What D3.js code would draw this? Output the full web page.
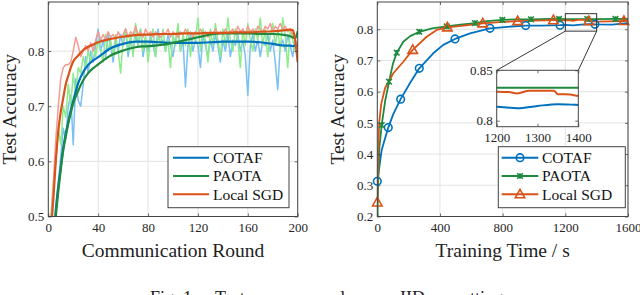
<!DOCTYPE html>
<html>
<head>
<meta charset="utf-8">
<script src="https://cdn.jsdelivr.net/npm/d3@7"></script>
<style>
  html, body { margin: 0; padding: 0; background: #fff; }
  svg { display: block; font-family: "Liberation Serif", "Times New Roman", serif; }
</style>
</head>
<body>
<div id="chart"></div>
<script>
// ---- left panel: accuracy vs communication round ----
const rawRounds = d3.range(0, 201, 2);
const cotafRaw = [0.38, 0.42, 0.46, 0.52, 0.56, 0.61, 0.66, 0.64, 0.70, 0.72, 0.63, 0.75, 0.71, 0.70, 0.74, 0.79, 0.76, 0.80, 0.78, 0.81,
  0.84, 0.80, 0.82, 0.79, 0.83, 0.81, 0.78, 0.82, 0.80, 0.83, 0.81, 0.84, 0.79, 0.82, 0.80, 0.83, 0.81, 0.84, 0.79, 0.82,
  0.80, 0.83, 0.81, 0.79, 0.84, 0.81, 0.82, 0.80, 0.83, 0.81, 0.79, 0.82, 0.84, 0.80, 0.82, 0.735, 0.81, 0.83, 0.80, 0.82,
  0.81, 0.77, 0.83, 0.81, 0.79, 0.82, 0.80, 0.83, 0.81, 0.78, 0.82, 0.80, 0.83, 0.79, 0.82, 0.81, 0.83, 0.80, 0.82, 0.79,
  0.72, 0.81, 0.83, 0.80, 0.82, 0.79, 0.82, 0.81, 0.83, 0.80, 0.82, 0.78, 0.73, 0.81, 0.82, 0.80, 0.83, 0.81, 0.79, 0.82, 0.81];
const paotaRaw = [0.42, 0.50, 0.56, 0.60, 0.66, 0.63, 0.70, 0.68, 0.74, 0.70, 0.76, 0.72, 0.77, 0.76, 0.79, 0.77, 0.80, 0.78, 0.81, 0.79,
  0.82, 0.80, 0.78, 0.83, 0.80, 0.82, 0.79, 0.83, 0.80, 0.76, 0.82, 0.84, 0.80, 0.83, 0.79, 0.85, 0.81, 0.84, 0.80, 0.83,
  0.78, 0.82, 0.84, 0.79, 0.83, 0.81, 0.84, 0.80, 0.82, 0.77, 0.83, 0.81, 0.85, 0.80, 0.83, 0.81, 0.84, 0.79, 0.83, 0.82,
  0.86, 0.80, 0.84, 0.82, 0.78, 0.84, 0.81, 0.85, 0.82, 0.79, 0.84, 0.81, 0.86, 0.82, 0.80, 0.84, 0.82, 0.77, 0.84, 0.81,
  0.85, 0.82, 0.80, 0.84, 0.82, 0.86, 0.81, 0.84, 0.79, 0.83, 0.85, 0.81, 0.84, 0.80, 0.86, 0.83, 0.77, 0.84, 0.82, 0.80, 0.80];
const lsgdRaw = [0.42, 0.48, 0.56, 0.64, 0.70, 0.75, 0.77, 0.775, 0.775, 0.78, 0.80, 0.825, 0.81, 0.79, 0.80, 0.81, 0.80, 0.815, 0.80, 0.82,
  0.835, 0.82, 0.83, 0.82, 0.835, 0.825, 0.83, 0.82, 0.835, 0.825, 0.83, 0.84, 0.825, 0.835, 0.83, 0.845, 0.83, 0.835, 0.825, 0.84,
  0.83, 0.835, 0.825, 0.835, 0.83, 0.825, 0.835, 0.83, 0.84, 0.825, 0.835, 0.83, 0.825, 0.835, 0.83, 0.84, 0.83, 0.835, 0.825, 0.835,
  0.83, 0.84, 0.83, 0.835, 0.825, 0.835, 0.83, 0.84, 0.83, 0.835, 0.83, 0.84, 0.83, 0.835, 0.84, 0.83, 0.845, 0.835, 0.84, 0.83,
  0.845, 0.835, 0.84, 0.83, 0.845, 0.84, 0.835, 0.845, 0.84, 0.85, 0.835, 0.845, 0.84, 0.85, 0.84, 0.845, 0.835, 0.84, 0.83, 0.82, 0.78];

const smoothRounds = [0, 2, 4, 6, 8, 10, 12, 14, 16, 18, 20, 24, 28, 32, 36, 40, 50, 60, 70, 80, 90, 100, 110, 120, 130, 140, 150, 160, 170, 180, 190, 194, 196, 198, 200];
const cotafSmooth = [0.36, 0.41, 0.46, 0.51, 0.555, 0.59, 0.625, 0.65, 0.672, 0.692, 0.71, 0.742, 0.762, 0.775, 0.783, 0.789, 0.805, 0.813, 0.817, 0.817,
  0.816, 0.815, 0.815, 0.815, 0.816, 0.817, 0.817, 0.817, 0.816, 0.813, 0.81, 0.81, 0.809, 0.81, 0.81];
const paotaSmooth = [0.35, 0.40, 0.45, 0.50, 0.545, 0.585, 0.62, 0.645, 0.668, 0.688, 0.705, 0.728, 0.747, 0.76, 0.769, 0.776, 0.792, 0.801, 0.807, 0.809,
  0.811, 0.815, 0.82, 0.825, 0.83, 0.832, 0.832, 0.832, 0.831, 0.831, 0.829, 0.827, 0.825, 0.823, 0.836];
const lsgdSmooth = [0.42, 0.47, 0.53, 0.60, 0.655, 0.69, 0.715, 0.74, 0.755, 0.77, 0.781, 0.792, 0.802, 0.808, 0.812, 0.816, 0.822, 0.826, 0.829, 0.83,
  0.831, 0.831, 0.832, 0.832, 0.833, 0.833, 0.834, 0.834, 0.835, 0.836, 0.838, 0.839, 0.838, 0.82, 0.78];

// ---- right panel: accuracy vs training time ----
const cotafT = [0, 28, 70, 102, 149, 209, 268, 357, 421, 496, 592, 719, 830, 947, 1050, 1166, 1200, 1250, 1300, 1350, 1389, 1400, 1500, 1560, 1600];
const cotafV = [0.313, 0.413, 0.485, 0.528, 0.576, 0.628, 0.675, 0.723, 0.750, 0.769, 0.787, 0.803, 0.808, 0.812, 0.812, 0.813, 0.8139, 0.8123, 0.8146, 0.8163, 0.8158, 0.8156, 0.815, 0.818, 0.82];
const cotafMarkT = [0, 70, 149, 268, 496, 719, 947, 1166, 1389];

const paotaT = [0, 5, 13, 28, 50, 75, 100, 124, 166, 210, 268, 350, 443, 530, 623, 700, 798, 890, 981, 1100, 1160, 1200, 1300, 1340, 1400, 1520, 1600];
const paotaV = [0.15, 0.30, 0.42, 0.493, 0.57, 0.632, 0.69, 0.725, 0.76, 0.778, 0.792, 0.803, 0.809, 0.815, 0.820, 0.826, 0.830, 0.832, 0.832, 0.833, 0.833, 0.8327, 0.8327, 0.8327, 0.8327, 0.833, 0.833];
const paotaMarkT = [28, 75, 124, 268, 443, 623, 798, 981, 1160, 1340, 1520];

const lsgdT = [0, 5, 12, 25, 49, 102, 166, 226, 315, 379, 447, 550, 673, 780, 896, 1000, 1124, 1200, 1230, 1250, 1280, 1340, 1350, 1380, 1400, 1474, 1574, 1600];
const lsgdV = [0.245, 0.40, 0.50, 0.56, 0.611, 0.659, 0.696, 0.734, 0.776, 0.798, 0.806, 0.812, 0.819, 0.823, 0.826, 0.828, 0.829, 0.8288, 0.8285, 0.827, 0.8298, 0.8298, 0.8262, 0.826, 0.8245, 0.8255, 0.8265, 0.827];
const lsgdMarkT = [0, 226, 447, 673, 896, 1124, 1350, 1574];

const seriesNames = ['COTAF', 'PAOTA', 'Local SGD'];
const darkColors = ['#0072BD', '#1f8a3e', '#D95319'];
const lightColors = ['#78c0f5', '#8deb8d', '#f59b93'];

const leftXTicks = [0, 40, 80, 120, 160, 200];
const leftYTicks = [0.5, 0.6, 0.7, 0.8];
const rightXTicks = [0, 400, 800, 1200, 1600];
const rightYTicks = [0.2, 0.3, 0.4, 0.5, 0.6, 0.7, 0.8];
const insetXTicks = [1200, 1300, 1400];
const insetYTicks = [0.8, 0.85];

const width = 640, height = 295;
const svg = d3.select('#chart').append('svg')
  .attr('width', width)
  .attr('height', height);

const boxColor = '#444';
const gridColor = '#e3e3e3';
const tickFont = 13;
const labelFont = 19.5;

let clipId = 0;
function makeClip(x0, y0, w, h) {
  const id = 'clip' + (clipId++);
  svg.append('clipPath').attr('id', id)
    .append('rect').attr('x', x0).attr('y', y0).attr('width', w).attr('height', h);
  return `url(#${id})`;
}

function drawFrame(x, y, xTicks, yTicks, opts) {
  const g = svg.append('g');
  const [x0, x1] = x.range();
  const [y0, y1] = y.range(); // y0 bottom, y1 top
  if (opts.fill) {
    g.append('rect').attr('x', x0).attr('y', y1).attr('width', x1 - x0).attr('height', y0 - y1)
      .attr('fill', opts.fill);
  }
  if (opts.grid) {
    g.selectAll('.gx').data(xTicks).enter().append('line')
      .attr('x1', d => x(d)).attr('x2', d => x(d)).attr('y1', y0).attr('y2', y1)
      .attr('stroke', gridColor).attr('stroke-width', 1);
    g.selectAll('.gy').data(yTicks).enter().append('line')
      .attr('x1', x0).attr('x2', x1).attr('y1', d => y(d)).attr('y2', d => y(d))
      .attr('stroke', gridColor).attr('stroke-width', 1);
  }
  return g;
}

function drawAxes(x, y, xTicks, yTicks, fmtX, fmtY) {
  const [x0, x1] = x.range();
  const [y0, y1] = y.range();
  const g = svg.append('g');
  const tick = 3;
  g.append('g').attr('transform', `translate(0,${y0})`)
    .call(d3.axisBottom(x).tickValues(xTicks).tickFormat(fmtX).tickSize(-tick).tickSizeOuter(0).tickPadding(6.5));
  g.append('g').attr('transform', `translate(0,${y1})`)
    .call(d3.axisTop(x).tickValues(xTicks).tickFormat('').tickSize(-tick).tickSizeOuter(0));
  g.append('g').attr('transform', `translate(${x0},0)`)
    .call(d3.axisLeft(y).tickValues(yTicks).tickFormat(fmtY).tickSize(-tick).tickSizeOuter(0).tickPadding(4));
  g.append('g').attr('transform', `translate(${x1},0)`)
    .call(d3.axisRight(y).tickValues(yTicks).tickFormat('').tickSize(-tick).tickSizeOuter(0));
  g.selectAll('.domain').remove();
  g.selectAll('.tick line').attr('stroke', boxColor).attr('stroke-width', 0.8);
  g.selectAll('.tick text')
    .attr('fill', '#262626')
    .style('font-family', '"Liberation Serif", serif')
    .style('font-size', tickFont + 'px');
  g.append('rect').attr('x', x0).attr('y', y1).attr('width', x1 - x0).attr('height', y0 - y1)
    .attr('fill', 'none').attr('stroke', boxColor).attr('stroke-width', 1);
  return g;
}

function drawLegend(x0, y0, w, h, rowsY, lineX0, lineX1, textX, markers) {
  const g = svg.append('g');
  g.append('rect').attr('x', x0).attr('y', y0).attr('width', w).attr('height', h)
    .attr('fill', '#fff').attr('stroke', '#444').attr('stroke-width', 1);
  seriesNames.forEach((name, i) => {
    g.append('line').attr('x1', lineX0).attr('x2', lineX1).attr('y1', rowsY[i]).attr('y2', rowsY[i])
      .attr('stroke', darkColors[i]).attr('stroke-width', 2);
    if (markers) drawMarker(g, i, (lineX0 + lineX1) / 2, rowsY[i]);
    g.append('text').attr('x', textX).attr('y', rowsY[i]).attr('dy', '0.34em')
      .attr('fill', '#111').style('font-size', '15.5px').text(name);
  });
}

function drawMarker(g, i, cx, cy) {
  const c = darkColors[i];
  if (i === 0) {
    g.append('circle').attr('cx', cx).attr('cy', cy).attr('r', 3.8)
      .attr('fill', 'none').attr('stroke', c).attr('stroke-width', 1.6);
  } else if (i === 1) {
    const s = 2.8;
    g.append('path')
      .attr('d', `M${cx - s},${cy - s}L${cx + s},${cy + s}M${cx - s},${cy + s}L${cx + s},${cy - s}M${cx},${cy - s}L${cx},${cy + s}`)
      .attr('stroke', c).attr('stroke-width', 1.6).attr('fill', 'none');
  } else {
    const s = 5;
    g.append('path')
      .attr('d', `M${cx},${cy - s}L${cx + s * 0.95},${cy + s * 0.7}L${cx - s * 0.95},${cy + s * 0.7}Z`)
      .attr('stroke', c).attr('stroke-width', 1.6).attr('fill', 'none');
  }
}

// ===== left panel =====
const xL = d3.scaleLinear().domain([0, 200]).range([48.3, 297.7]);
const yL = d3.scaleLinear().domain([0.5, 0.889]).range([216.5, 2]);
drawFrame(xL, yL, leftXTicks, leftYTicks, { grid: true });
const clipL = makeClip(48.3, 2, 297.7 - 48.3, 216.5 - 2);
const plotL = svg.append('g').attr('clip-path', clipL);

const rawLine = d3.line().x((d, i) => xL(rawRounds[i])).y(d => yL(d));
[cotafRaw, paotaRaw, lsgdRaw].forEach((arr, i) => {
  plotL.append('path').datum(arr).attr('d', rawLine)
    .attr('fill', 'none').attr('stroke', lightColors[i]).attr('stroke-width', 1.5)
    .attr('stroke-linejoin', 'round');
});
const smoothLine = d3.line().x((d, i) => xL(smoothRounds[i])).y(d => yL(d)).curve(d3.curveMonotoneX);
[cotafSmooth, paotaSmooth, lsgdSmooth].forEach((arr, i) => {
  plotL.append('path').datum(arr).attr('d', smoothLine)
    .attr('fill', 'none').attr('stroke', darkColors[i]).attr('stroke-width', 2.2)
    .attr('stroke-linejoin', 'round');
});
drawAxes(xL, yL, leftXTicks, leftYTicks, d3.format('d'), d => d3.format('.1f')(d));
drawLegend(168, 146.7, 121, 61, [157.7, 176, 194.3], 173, 209, 213, false);

svg.append('text').attr('x', (48.3 + 297.7) / 2).attr('y', 256.7).attr('text-anchor', 'middle')
  .style('font-size', labelFont + 'px').attr('fill', '#222').text('Communication Round');
svg.append('text').attr('transform', `translate(15.5,${(216.5 + 2) / 2}) rotate(-90)`).attr('text-anchor', 'middle')
  .style('font-size', labelFont + 'px').attr('fill', '#222').text('Test Accuracy');

// ===== right panel =====
const xR = d3.scaleLinear().domain([0, 1600]).range([377.3, 628]);
const yR = d3.scaleLinear().domain([0.2, 0.8874]).range([216.5, 2]);
drawFrame(xR, yR, rightXTicks, rightYTicks, { grid: true });
const clipR = makeClip(377.3, 2, 628 - 377.3, 216.5 - 2);
const plotR = svg.append('g').attr('clip-path', clipR);

const rightSeries = [
  { t: cotafT, v: cotafV, m: cotafMarkT },
  { t: paotaT, v: paotaV, m: paotaMarkT },
  { t: lsgdT, v: lsgdV, m: lsgdMarkT }
];
rightSeries.forEach((s, i) => {
  const pts = s.t.map((t, k) => [t, s.v[k]]);
  plotR.append('path').datum(pts)
    .attr('d', d3.line().x(d => xR(d[0])).y(d => yR(d[1])))
    .attr('fill', 'none').attr('stroke', darkColors[i]).attr('stroke-width', 1.8)
    .attr('stroke-linejoin', 'round');
});
rightSeries.forEach((s, i) => {
  s.m.forEach(t => {
    const k = s.t.indexOf(t);
    if (k >= 0 && s.v[k] >= 0.2) drawMarker(svg, i, xR(t), yR(s.v[k]));
  });
});
drawAxes(xR, yR, rightXTicks, rightYTicks, d3.format('d'), d => d3.format('.1f')(d));

// zoom rectangle and connector lines
const zoomX = [1200, 1400], zoomY = [0.794, 0.85];
svg.append('rect')
  .attr('x', xR(zoomX[0])).attr('y', yR(zoomY[1]))
  .attr('width', xR(zoomX[1]) - xR(zoomX[0])).attr('height', yR(zoomY[0]) - yR(zoomY[1]))
  .attr('fill', 'none').attr('stroke', '#333').attr('stroke-width', 1);

// inset
const xI = d3.scaleLinear().domain(zoomX).range([496.7, 578.3]);
const yI = d3.scaleLinear().domain(zoomY).range([126.7, 70.3]);
svg.append('line').attr('x1', xR(zoomX[0])).attr('y1', yR(zoomY[0])).attr('x2', xI(zoomX[0])).attr('y2', yI(zoomY[1]))
  .attr('stroke', '#222').attr('stroke-width', 0.9);
svg.append('line').attr('x1', xR(zoomX[1])).attr('y1', yR(zoomY[0])).attr('x2', xI(zoomX[1])).attr('y2', yI(zoomY[1]))
  .attr('stroke', '#222').attr('stroke-width', 0.9);

drawFrame(xI, yI, insetXTicks, insetYTicks, { fill: '#fff', grid: false });
const clipI = makeClip(496.7, 70.3, 578.3 - 496.7, 126.7 - 70.3);
const plotI = svg.append('g').attr('clip-path', clipI);
rightSeries.forEach((s, i) => {
  const pts = s.t.map((t, k) => [t, s.v[k]]);
  plotI.append('path').datum(pts)
    .attr('d', d3.line().x(d => xI(d[0])).y(d => yI(d[1])).curve(d3.curveMonotoneX))
    .attr('fill', 'none').attr('stroke', darkColors[i]).attr('stroke-width', 2)
    .attr('stroke-linejoin', 'round');
});
drawAxes(xI, yI, insetXTicks, insetYTicks, d3.format('d'), d => d === 0.8 ? '0.8' : '0.85');

drawLegend(498.3, 146.7, 127, 61, [157.7, 176, 194.3], 501.7, 538.3, 542, true);

svg.append('text').attr('x', (377.3 + 628) / 2).attr('y', 256.7).attr('text-anchor', 'middle')
  .style('font-size', labelFont + 'px').attr('fill', '#222').text('Training Time / s');
svg.append('text').attr('transform', `translate(344,${(216.5 + 2) / 2}) rotate(-90)`).attr('text-anchor', 'middle')
  .style('font-size', labelFont + 'px').attr('fill', '#222').text('Test Accuracy');

// caption: the reference shows only the top of it at the bottom edge
const caption = svg.append('text').attr('y', 303.5).style('font-size', '18px').attr('fill', '#222');
caption.append('tspan').attr('x', 150).text('Fig. 1:');
caption.append('tspan').attr('x', 215).text('Test accuracy under');
caption.append('tspan').attr('x', 400).text('IID');
caption.append('tspan').attr('x', 455).text('setting.');
</script>
</body>
</html>
